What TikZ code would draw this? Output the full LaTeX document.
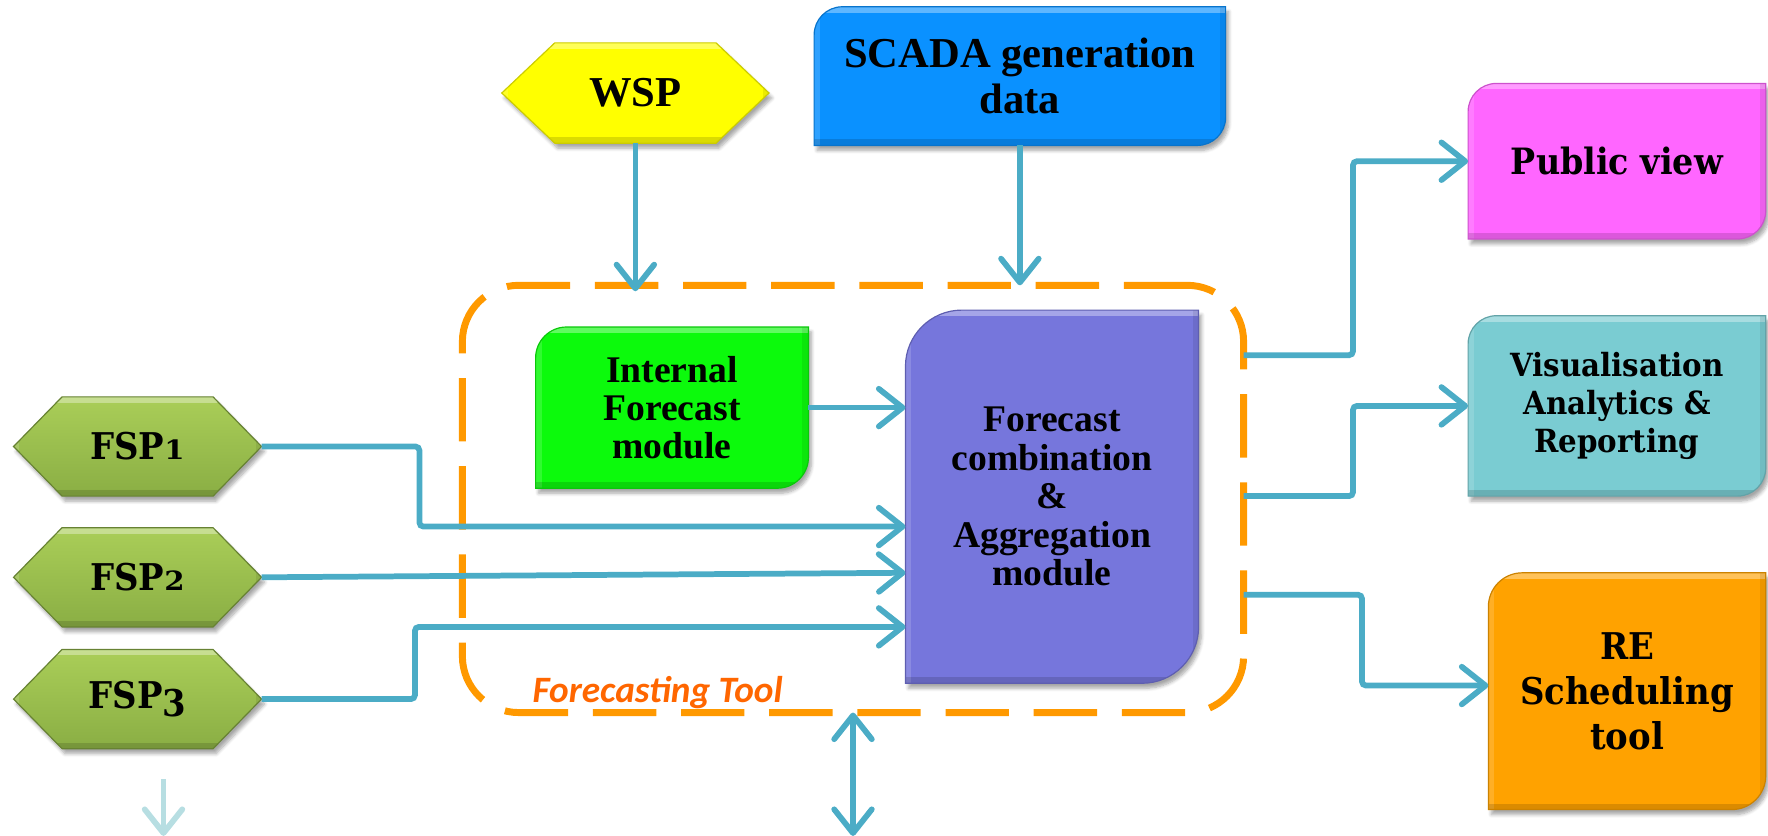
\documentclass[tikz,border=0pt]{standalone}
\usepackage{graphicx}
\usepackage{fontspec}
\newfontfamily\tnrfont{Liberation Serif}
\newfontfamily\geofont{DejaVu Serif}[FakeStretch=0.92]
\newfontfamily\calfont{Carlito}
\usetikzlibrary{arrows.meta,shadows.blur,calc}
\pgfdeclarelayer{bg}
\pgfsetlayers{bg,main}

\definecolor{linkc}{RGB}{75,172,198}
\definecolor{lightc}{RGB}{183,222,226}
\definecolor{dashc}{RGB}{255,153,0}
\definecolor{titlec}{RGB}{255,102,0}
\definecolor{wspc}{RGB}{255,255,0}
\definecolor{scadac}{RGB}{10,145,255}
\definecolor{pubc}{RGB}{255,102,255}
\definecolor{visc}{RGB}{122,204,210}
\definecolor{rec}{RGB}{255,162,0}
\definecolor{internc}{RGB}{12,250,12}
\definecolor{comboc}{RGB}{118,118,220}
\definecolor{fsptop}{RGB}{170,206,88}
\definecolor{fspbot}{RGB}{138,174,68}

% old-style figures: x-height digit, and descending digit
\newcommand\osfx[1]{\scalebox{0.86}[0.72]{#1}}
\newcommand\osfd[1]{\raisebox{-0.22em}{#1}}

% box with rounded top-left and bottom-right corners, drawn behind node #1
\newcommand\cornerbox[3]{%
  \begin{pgfonlayer}{bg}
  \path[#3] (#1.south west) -- ([yshift=-#2]#1.north west)
    arc[start angle=180,end angle=90,radius=#2] -- (#1.north east)
    -- ([yshift=#2]#1.south east)
    arc[start angle=0,end angle=-90,radius=#2] -- cycle;
  \end{pgfonlayer}}
% flat hexagon filling the bounding box of node #1
\newcommand\hexbox[3]{%
  \begin{pgfonlayer}{bg}
  \path[#3] (#1.west) -- ([xshift=#2]#1.north west) -- ([xshift=-#2]#1.north east)
    -- (#1.east) -- ([xshift=-#2]#1.south east) -- ([xshift=#2]#1.south west) -- cycle;
  \end{pgfonlayer}}

\tikzset{
  boxtext/.style={inner sep=0pt, outer sep=0pt, align=center, text=black},
  shadowed/.style={blur shadow={shadow xshift=1.5pt, shadow yshift=-2.5pt,
      shadow blur steps=6, shadow opacity=35}},
  bevel/.style={path picture={
      \fill[white,opacity=0.35] (path picture bounding box.north west)
        rectangle ([yshift=-3pt]path picture bounding box.north east);
      \fill[white,opacity=0.15] (path picture bounding box.north west)
        rectangle ([xshift=3pt]path picture bounding box.south west);
      \fill[black,opacity=0.14] (path picture bounding box.south west)
        rectangle ([yshift=3pt]path picture bounding box.south east);
      \fill[black,opacity=0.08] (path picture bounding box.north east)
        rectangle ([xshift=-3pt]path picture bounding box.south east);}},
  panel/.style={fill=#1, draw=#1!80!black, line width=0.6pt, shadowed, bevel},
  hexpanel/.style={top color=fsptop, bottom color=fspbot, draw=fspbot!75!black,
      line width=0.6pt, shadowed, bevel},
  tip/.tip={Straight Barb[length=12pt,width=19pt,round]},
  link/.style={draw=linkc, line width=2.9pt, rounded corners=2pt, -tip},
  condA/.style={font=\tnrfont\bfseries\fontsize{21.5}{23}\selectfont},
  condB/.style={font=\tnrfont\bfseries\fontsize{19}{19.4}\selectfont},
  geo/.style={font=\geofont\bfseries\fontsize{#1}{19.4}\selectfont},
}

\begin{document}
\begin{tikzpicture}[x=0.02cm,y=-0.02cm]
\useasboundingbox (0,0) rectangle (1568,741.4);

% dashed frame of the forecasting tool
\node[draw=dashc, line width=3.5pt, dash pattern=on 32pt off 12.5pt,
      rounded corners=1cm, minimum width=13.86cm, minimum height=7.58cm,
      outer sep=0pt] (tool) at (756.5,442.5) {};
\node[font=\calfont\bfseries\itshape\fontsize{18.8}{20}\selectfont, text=titlec,
      anchor=base west, inner sep=0pt] (tooltitle) at (472,623) {Forecasting Tool};

% inputs
\node[boxtext, condA, minimum width=4.74cm, minimum height=1.78cm] (wsp) at (563.5,82.5) {WSP};
\node[boxtext, condA, minimum width=7.3cm, minimum height=2.46cm] (scada) at (904.5,67.5) {SCADA generation\\data};
\node[boxtext, geo=18.6, minimum width=4.4cm, minimum height=1.76cm] (fsp1) at (122,396) {FSP\osfx{1}};
\node[boxtext, geo=18.6, minimum width=4.4cm, minimum height=1.76cm] (fsp2) at (122,512) {FSP\osfx{2}};
\node[boxtext, geo=18.6, minimum width=4.4cm, minimum height=1.76cm] (fsp3) at (122,620) {FSP\osfd{3}};

% modules of the tool
\node[boxtext, condB, minimum width=4.84cm, minimum height=2.86cm] (intern) at (596,361.5) {Internal\\Forecast\\module};
\node[boxtext, condB, minimum width=5.2cm, minimum height=6.62cm] (combo) at (933,440.5) {Forecast\\combination\\\&\\Aggregation\\module};

% outputs
\node[boxtext, geo=18.3, minimum width=5.28cm, minimum height=2.76cm] (pub) at (1434,143) {Public view};
\node[boxtext, font=\geofont\bfseries\fontsize{16.1}{19.4}\selectfont, minimum width=5.28cm, minimum height=3.2cm] (vis) at (1434,360) {Visualisation\\Analytics \&\\Reporting};
\node[boxtext, font=\geofont\bfseries\fontsize{18.6}{22.8}\selectfont, minimum width=4.92cm, minimum height=4.2cm] (re) at (1443,613) {RE\\Scheduling\\tool};

% shapes behind the texts
\hexbox{wsp}{0.94cm}{panel=wspc}
\hexbox{fsp1}{0.86cm}{hexpanel}
\hexbox{fsp2}{0.86cm}{hexpanel}
\hexbox{fsp3}{0.86cm}{hexpanel}
\cornerbox{scada}{0.5cm}{panel=scadac}
\cornerbox{intern}{0.55cm}{panel=internc}
\cornerbox{combo}{1cm}{panel=comboc}
\cornerbox{pub}{0.5cm}{panel=pubc}
\cornerbox{vis}{0.5cm}{panel=visc}
\cornerbox{re}{0.6cm}{panel=rec}

% connectors
\draw[link] (wsp.south) -- ([yshift=-3pt]wsp.south |- tool.north);
\draw[link] (scada.south) -- (scada.south |- tool.north);
\draw[link] (intern.east) -- (intern.east -| combo.west);
\draw[link] (fsp1.east) -- ++(140,0) |- ([yshift=-0.53cm]combo.west);
\draw[link] (fsp2.east) -- ([yshift=-1.35cm]combo.west);
\draw[link] (fsp3.east) -- ++(136,0) |- ([yshift=-2.31cm]combo.west);
\draw[link] ([yshift=2.55cm]tool.east) -- ++(97,0) |- (pub.west);
\draw[link] ([yshift=0.05cm]tool.east) -- ++(97,0) |- (vis.west);
\draw[link] ([yshift=-1.7cm]tool.east) -- ++(105,0) |- ([yshift=0.1cm]re.west);

\coordinate (extlink) at (756.5,741.4);
\draw[link, tip-tip] (tool.south) -- (extlink);

\coordinate (fadetop) at (145,691);
\coordinate (fadebot) at (145,741.4);
\draw[link, draw=lightc] (fadetop) -- (fadebot);
\end{tikzpicture}
\end{document}
